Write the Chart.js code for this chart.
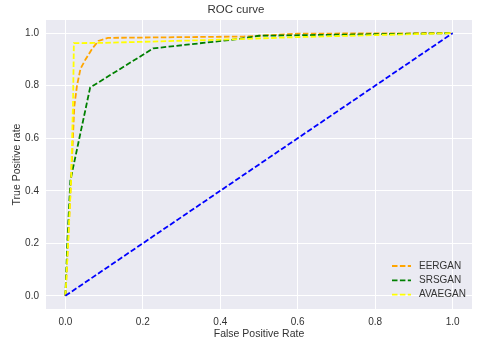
<!DOCTYPE html>
<html>
<head>
<meta charset="utf-8">
<script src="https://cdn.jsdelivr.net/npm/chart.js@4/dist/chart.umd.min.js"></script>
<style>
  body { margin: 0; background: #fff; }
  #wrap { width: 480px; height: 346px; }
</style>
</head>
<body>
<div id="wrap"><canvas id="roc"></canvas></div>
<script>
// ROC points (fpr, tpr)
const eerganFpr = [0, 0.003, 0.015, 0.023, 0.03, 0.039, 0.052, 0.069, 0.085, 0.11, 0.46, 0.6, 1.0]
const eerganTpr = [0, 0.08, 0.45, 0.72, 0.80, 0.864, 0.90, 0.94, 0.97, 0.982, 0.987, 0.998, 1.0]

const srsganFpr = [0, 0.005, 0.013, 0.064, 0.227, 0.45, 0.5, 1.0]
const srsganTpr = [0, 0.2, 0.44, 0.793, 0.942, 0.978, 0.99, 1.0]

const avaeganFpr = [0, 0.003, 0.015, 0.02, 0.022, 0.1, 0.4, 0.6, 1.0]
const avaeganTpr = [0, 0.08, 0.45, 0.75, 0.962, 0.963, 0.975, 0.985, 1.0]

const chanceFpr = [0, 1]
const chanceTpr = [0, 1]

const xTicks = [0, 0.2, 0.4, 0.6, 0.8, 1.0]
const yTicks = [0, 0.2, 0.4, 0.6, 0.8, 1.0]
const legendOrder = ['EERGAN', 'SRSGAN', 'AVAEGAN']

const pts = (xs, ys) => xs.map((x, i) => ({ x: x, y: ys[i] }))

const font = 'Liberation Sans, Arial, sans-serif'
const textColor = '#333'

function line(label, color, xs, ys) {
	return {
		label: label,
		data: pts(xs, ys),
		borderColor: color,
		backgroundColor: color,
		borderWidth: 1.8,
		borderDash: [5.5, 2.4],
		pointRadius: 0,
		tension: 0,
		fill: false
	}
}

// plot background like seaborn darkgrid
const bgPlugin = {
	id: 'bg',
	beforeDraw(chart) {
		const { ctx, chartArea: a } = chart
		ctx.save()
		ctx.fillStyle = '#EAEAF2'
		ctx.fillRect(a.left, a.top, a.right - a.left, a.bottom - a.top)
		ctx.restore()
	}
}

// legend inside the axes, lower right
const legendPlugin = {
	id: 'innerLegend',
	afterDraw(chart) {
		const { ctx } = chart
		const items = legendOrder.map(l => chart.data.datasets.find(d => d.label === l))
		const x0 = 392, x1 = 411, tx = 419
		let y = 266
		ctx.save()
		ctx.font = '10px ' + font
		ctx.textBaseline = 'middle'
		items.forEach(d => {
			ctx.strokeStyle = d.borderColor
			ctx.lineWidth = d.borderWidth
			ctx.setLineDash(d.borderDash)
			ctx.beginPath()
			ctx.moveTo(x0, y)
			ctx.lineTo(x1, y)
			ctx.stroke()
			ctx.setLineDash([])
			ctx.fillStyle = textColor
			ctx.fillText(d.label, tx, y)
			y += 14.3
		})
		ctx.restore()
	}
}

new Chart(document.getElementById('roc'), {
	type: 'line',
	data: {
		datasets: [
			line(null, 'blue', chanceFpr, chanceTpr),
			line('AVAEGAN', 'yellow', avaeganFpr, avaeganTpr),
			line('SRSGAN', 'green', srsganFpr, srsganTpr),
			line('EERGAN', 'orange', eerganFpr, eerganTpr)
		]
	},
	options: {
		responsive: true,
		maintainAspectRatio: false,
		animation: false,
		layout: { padding: { left: 0, right: 8, top: 0, bottom: 0 } },
		plugins: {
			legend: { display: false },
			tooltip: { enabled: false },
			title: {
				display: true,
				text: 'ROC curve',
				color: textColor,
				font: { family: font, size: 11.5, weight: 'normal' },
				padding: { top: 3, bottom: 3.2 }
			}
		},
		scales: {
			x: {
				type: 'linear',
				min: -0.05,
				max: 1.05,
				border: { display: false },
				grid: { color: '#fff', lineWidth: 1, drawTicks: false },
				afterBuildTicks: s => { s.ticks = xTicks.map(v => ({ value: v })) },
				afterFit: s => { s.height = 37 },
				ticks: {
					color: textColor,
					padding: 7,
					maxRotation: 0,
					font: { family: font, size: 10 },
					callback: v => Number(v).toFixed(1)
				},
				title: {
					display: true,
					text: 'False Positive Rate',
					color: textColor,
					font: { family: font, size: 10.5 },
					padding: { top: 0, bottom: 6 }
				}
			},
			y: {
				type: 'linear',
				min: -0.05,
				max: 1.05,
				border: { display: false },
				grid: { color: '#fff', lineWidth: 1, drawTicks: false },
				afterBuildTicks: s => { s.ticks = yTicks.map(v => ({ value: v })) },
				afterFit: s => { s.width = 46 },
				ticks: {
					color: textColor,
					padding: 7,
					font: { family: font, size: 10 },
					callback: v => Number(v).toFixed(1)
				},
				title: {
					display: true,
					text: 'True Positive rate',
					color: textColor,
					font: { family: font, size: 10.5 },
					padding: { top: 10.5, bottom: 0 }
				}
			}
		}
	},
	plugins: [bgPlugin, legendPlugin]
})
</script>
</body>
</html>
